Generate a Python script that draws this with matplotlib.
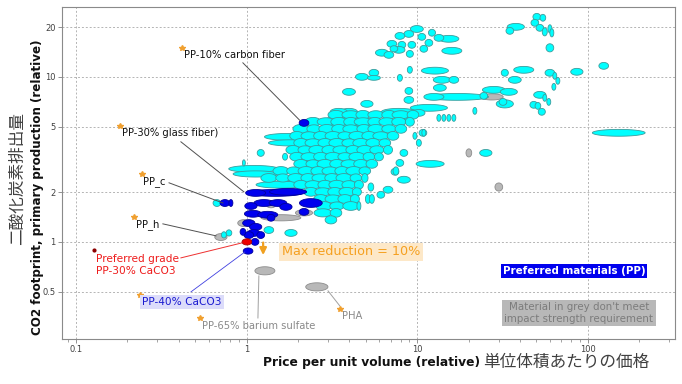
import numpy as np
import matplotlib
matplotlib.use("Agg")
import matplotlib.pyplot as plt
from matplotlib.ticker import FixedLocator, LogLocator, NullFormatter, NullLocator

# each material: (price centre, CO2 centre, price hi/lo ratio, CO2 hi/lo ratio)
cyan_wide = [
    (17.1, 7.56, 2.34, 1.10), (151.7, 4.58, 2.04, 1.10), (1.75, 4.33, 1.89, 1.10),
    (1.82, 3.98, 1.84, 1.09), (1.10, 2.77, 1.96, 1.10), (1.13, 2.58, 1.84, 1.09),
    (11.7, 6.49, 1.65, 1.10), (7.80, 6.14, 1.60, 1.10), (11.9, 2.97, 1.46, 1.10),
    (12.7, 10.9, 1.44, 1.10), (3.57, 4.98, 1.71, 1.10), (4.25, 5.49, 1.56, 1.10),
    (3.12, 3.61, 1.60, 1.09), (2.72, 3.14, 1.50, 1.09), (4.08, 4.15, 1.71, 1.09),
    (5.00, 4.91, 1.60, 1.09), (2.08, 2.38, 1.50, 1.09), (1.59, 2.22, 1.96, 1.10),
]

cyan_upper = [
    (9.95, 19.5, 1.19, 1.10), (8.93, 18.2, 1.14, 1.10), (7.91, 17.7, 1.14, 1.10),
    (12.2, 18.5, 1.10, 1.10), (10.64, 17.47, 1.11, 1.10), (11.7, 16.07, 1.11, 1.10),
    (15.32, 17.0, 1.31, 1.10), (13.4, 17.23, 1.14, 1.10), (7.10, 15.85, 1.14, 1.10),
    (8.13, 15.63, 1.11, 1.10), (9.30, 15.63, 1.11, 1.10), (7.80, 14.58, 1.18, 1.10),
    (6.21, 14.0, 1.19, 1.10), (6.82, 13.59, 1.14, 1.10), (9.05, 13.78, 1.10, 1.10),
    (10.93, 14.79, 1.11, 1.10), (15.95, 14.38, 1.31, 1.10), (7.30, 14.79, 1.11, 1.09),
    (9.05, 11.03, 1.07, 1.10), (4.74, 10.0, 1.19, 1.10), (5.57, 10.58, 1.14, 1.10),
    (5.57, 9.86, 1.19, 1.07), (7.91, 9.86, 1.07, 1.10), (13.94, 9.59, 1.26, 1.10),
    (16.39, 9.59, 1.14, 1.10), (13.57, 8.58, 1.19, 1.10), (8.93, 8.22, 1.11, 1.10),
    (3.98, 8.11, 1.19, 1.10), (12.52, 7.56, 1.31, 1.10), (28.1, 8.34, 1.36, 1.10),
    (34.4, 8.11, 1.26, 1.10), (24.56, 7.67, 1.11, 1.10), (8.93, 7.25, 1.14, 1.10),
    (5.07, 6.86, 1.18, 1.10), (32.6, 6.86, 1.26, 1.12), (31.8, 7.05, 1.11, 1.10),
    (21.76, 6.22, 1.055, 1.10), (3.98, 6.14, 1.26, 1.10), (3.47, 6.14, 1.26, 1.10),
    (10.22, 6.05, 1.18, 1.10), (13.39, 5.64, 1.055, 1.10), (14.32, 5.64, 1.055, 1.10),
    (15.32, 5.64, 1.055, 1.10), (16.39, 5.64, 1.055, 1.10), (8.93, 5.64, 1.14, 1.10),
    (10.80, 4.58, 1.11, 1.10), (9.69, 4.39, 1.055, 1.10), (7.91, 3.01, 1.11, 1.10),
    (7.40, 2.66, 1.11, 1.10), (8.35, 2.38, 1.19, 1.10), (25.23, 3.46, 1.18, 1.10),
    (10.22, 3.98, 1.07, 1.10), (10.93, 4.58, 1.055, 1.10), (8.35, 3.46, 1.11, 1.10),
    (6.74, 2.07, 1.14, 1.10), (6.12, 1.93, 1.11, 1.10), (5.35, 2.15, 1.08, 1.12),
    (7.50, 2.69, 1.08, 1.12),
]

cyan_right = [
    (50.2, 23.1, 1.11, 1.10), (48.9, 21.25, 1.11, 1.10), (52.3, 19.82, 1.11, 1.10),
    (54.5, 22.8, 1.08, 1.10), (37.83, 20.09, 1.26, 1.10), (34.9, 19.0, 1.11, 1.10),
    (55.9, 18.74, 1.07, 1.12), (59.9, 19.54, 1.055, 1.12), (61.5, 18.48, 1.055, 1.12),
    (59.9, 14.99, 1.11, 1.12), (32.6, 10.58, 1.10, 1.10), (42.1, 11.03, 1.31, 1.10),
    (37.3, 9.59, 1.19, 1.10), (59.9, 10.58, 1.14, 1.10), (64.0, 10.14, 1.055, 1.10),
    (66.7, 9.46, 1.055, 1.10), (63.2, 8.70, 1.055, 1.10), (86.2, 10.73, 1.18, 1.10),
    (123.9, 11.66, 1.14, 1.10), (52.3, 7.78, 1.18, 1.10), (55.9, 7.46, 1.055, 1.10),
    (59.0, 7.05, 1.055, 1.10), (48.2, 6.77, 1.11, 1.10), (50.96, 6.67, 1.08, 1.10),
    (53.7, 6.14, 1.10, 1.10),
]

cyan_core = [
    (3.34, 5.89, 1.24, 1.13), (4.08, 5.89, 1.27, 1.12), (4.81, 5.89, 1.21, 1.13),
    (5.72, 5.89, 1.24, 1.12), (6.82, 5.89, 1.21, 1.13), (8.02, 5.89, 1.27, 1.12),
    (9.44, 5.89, 1.17, 1.13),
    (2.45, 5.34, 1.24, 1.13), (2.92, 5.34, 1.27, 1.12), (3.47, 5.34, 1.24, 1.13),
    (4.08, 5.34, 1.21, 1.13), (4.81, 5.34, 1.27, 1.12), (5.65, 5.34, 1.21, 1.13),
    (6.64, 5.34, 1.24, 1.12), (7.80, 5.34, 1.21, 1.13), (9.05, 5.34, 1.13, 1.13),
    (2.08, 4.84, 1.24, 1.13), (2.48, 4.84, 1.21, 1.12), (2.95, 4.84, 1.24, 1.13),
    (3.47, 4.84, 1.21, 1.13), (4.08, 4.84, 1.24, 1.12), (4.87, 4.84, 1.21, 1.13),
    (5.72, 4.84, 1.24, 1.13), (6.82, 4.84, 1.21, 1.12), (8.02, 4.84, 1.17, 1.13),
    (1.97, 4.39, 1.21, 1.13), (2.32, 4.39, 1.24, 1.12), (2.72, 4.39, 1.21, 1.13),
    (3.21, 4.39, 1.24, 1.13), (3.77, 4.39, 1.21, 1.12), (4.43, 4.39, 1.24, 1.13),
    (5.21, 4.39, 1.21, 1.13), (6.12, 4.39, 1.24, 1.12), (7.21, 4.39, 1.17, 1.13),
    (2.08, 3.98, 1.21, 1.13), (2.45, 3.98, 1.24, 1.12), (2.88, 3.98, 1.21, 1.13),
    (3.38, 3.98, 1.24, 1.13), (3.98, 3.98, 1.21, 1.12), (4.67, 3.98, 1.24, 1.13),
    (5.50, 3.98, 1.21, 1.13), (6.46, 3.98, 1.17, 1.12),
    (1.87, 3.61, 1.21, 1.13), (2.20, 3.61, 1.21, 1.12), (2.58, 3.61, 1.24, 1.13),
    (3.04, 3.61, 1.21, 1.13), (3.57, 3.61, 1.24, 1.12), (4.20, 3.61, 1.21, 1.13),
    (4.93, 3.61, 1.24, 1.13), (5.80, 3.61, 1.21, 1.12), (6.74, 3.61, 1.13, 1.13),
    (1.97, 3.28, 1.21, 1.13), (2.32, 3.28, 1.24, 1.12), (2.72, 3.28, 1.21, 1.13),
    (3.21, 3.28, 1.24, 1.13), (3.77, 3.28, 1.21, 1.12), (4.43, 3.28, 1.24, 1.13),
    (5.21, 3.28, 1.17, 1.13), (5.96, 3.28, 1.13, 1.12),
    (2.08, 2.97, 1.21, 1.13), (2.45, 2.97, 1.21, 1.12), (2.88, 2.97, 1.24, 1.13),
    (3.38, 2.97, 1.21, 1.13), (3.98, 2.97, 1.24, 1.12), (4.67, 2.97, 1.21, 1.13),
    (5.42, 2.97, 1.17, 1.13),
    (1.59, 2.69, 1.24, 1.13), (1.89, 2.69, 1.21, 1.12), (2.23, 2.69, 1.24, 1.13),
    (2.62, 2.69, 1.21, 1.13), (3.08, 2.69, 1.24, 1.12), (3.62, 2.69, 1.21, 1.13),
    (4.25, 2.69, 1.24, 1.13), (4.93, 2.69, 1.17, 1.12),
    (1.35, 2.44, 1.24, 1.13), (1.63, 2.44, 1.21, 1.12), (1.94, 2.44, 1.24, 1.13),
    (2.29, 2.44, 1.21, 1.13), (2.69, 2.44, 1.24, 1.12), (3.16, 2.44, 1.21, 1.13),
    (3.72, 2.44, 1.24, 1.13), (4.37, 2.44, 1.17, 1.12), (4.93, 2.44, 1.09, 1.13),
    (2.08, 2.22, 1.21, 1.13), (2.45, 2.22, 1.24, 1.12), (2.88, 2.22, 1.21, 1.13),
    (3.38, 2.22, 1.24, 1.13), (3.98, 2.22, 1.21, 1.12), (4.55, 2.22, 1.13, 1.13),
    (2.38, 2.01, 1.21, 1.13), (2.80, 2.01, 1.24, 1.12), (3.29, 2.01, 1.21, 1.13),
    (3.87, 2.01, 1.24, 1.13), (4.43, 2.01, 1.13, 1.12),
    (2.72, 1.82, 1.21, 1.13), (3.21, 1.82, 1.24, 1.12), (3.77, 1.82, 1.21, 1.13),
    (4.31, 1.82, 1.13, 1.13), (5.14, 1.82, 1.07, 1.13), (5.42, 1.82, 1.07, 1.13),
    (2.84, 1.65, 1.24, 1.13), (3.38, 1.65, 1.21, 1.12), (4.08, 1.65, 1.24, 1.13),
    (4.55, 1.65, 1.055, 1.13), (2.80, 1.50, 1.27, 1.12), (3.34, 1.50, 1.17, 1.13),
    (3.12, 1.36, 1.17, 1.12),
    (1.21, 3.46, 1.10, 1.10), (1.68, 3.28, 1.07, 1.10), (0.964, 3.01, 1.04, 1.09),
    (1.82, 1.133, 1.18, 1.10), (1.35, 1.18, 1.14, 1.10), (0.788, 1.133, 1.08, 1.09),
    (0.736, 1.103, 1.07, 1.09), (0.670, 1.72, 1.11, 1.10),
]

grey_items = [
    (20.07, 3.46, 1.08, 1.12), (30.07, 2.15, 1.11, 1.12), (27.36, 7.56, 1.36, 1.09),
    (3.04, 5.49, 1.04, 1.09), (1.59, 1.40, 1.71, 1.09), (2.17, 1.50, 1.26, 1.09),
    (0.964, 1.30, 1.18, 1.10), (0.707, 1.07, 1.18, 1.10), (1.28, 0.668, 1.31, 1.12),
    (2.58, 0.534, 1.35, 1.12), (2.08, 3.23, 1.08, 1.09), (1.39, 1.68, 1.14, 1.09),
]

blue_items = [
    (2.17, 5.26, 1.14, 1.10), (1.465, 1.98, 2.13, 1.10), (1.75, 2.01, 1.65, 1.10),
    (1.13, 1.98, 1.31, 1.10), (0.746, 1.72, 1.14, 1.10), (0.809, 1.72, 1.055, 1.10),
    (1.263, 1.72, 1.31, 1.10), (1.527, 1.72, 1.27, 1.10), (1.06, 1.65, 1.18, 1.10),
    (1.70, 1.63, 1.18, 1.10), (2.38, 1.72, 1.36, 1.13), (2.17, 1.52, 1.14, 1.10),
    (1.09, 1.48, 1.26, 1.10), (1.33, 1.46, 1.31, 1.10), (1.03, 1.30, 1.18, 1.10),
    (1.13, 1.233, 1.18, 1.10), (1.10, 1.133, 1.18, 1.10), (1.03, 1.10, 1.14, 1.10),
    (1.21, 1.10, 1.11, 1.10), (0.952, 1.15, 1.08, 1.10), (1.12, 1.0, 1.11, 1.10),
    (1.02, 0.88, 1.14, 1.09), (1.39, 1.40, 1.11, 1.10),
]

preferred_grade = [(1.004, 1.0, 1.14, 1.09)]

fig = plt.figure(figsize=(6.82, 3.84), dpi=100)
ax = fig.add_axes([0.0909, 0.1172, 0.8988, 0.8646])
ax.set_xscale("log")
ax.set_yscale("log")
ax.set_xlim(0.0828, 324)
ax.set_ylim(0.258, 26.5)

t = np.linspace(0, 2 * np.pi, 60)


def draw(items, face, edge, z):
    for p, c, pr, cr in items:
        lx = np.log10(p) + 0.5 * np.log10(pr) * np.cos(t)
        ly = np.log10(c) + 0.5 * np.log10(cr) * np.sin(t)
        ax.fill(10 ** lx, 10 ** ly, facecolor=face, edgecolor=edge, lw=0.6, zorder=z)


draw(grey_items, "#b8b8b8", "#8c8c8c", 2)
draw(cyan_wide, "#00ffff", "#3c9c9c", 3)
draw(cyan_upper, "#00ffff", "#3c9c9c", 4)
draw(cyan_right, "#00ffff", "#3c9c9c", 4)
draw(cyan_core, "#00ffff", "#3c9c9c", 4)
draw(blue_items, "#0000ee", "#00009a", 5)
draw(preferred_grade, "#ee0000", "#aa0000", 6)

# grid & axes styling
ax.xaxis.set_major_locator(FixedLocator([0.1, 1, 10, 100]))
ax.xaxis.set_minor_locator(LogLocator(base=10, subs=np.arange(2, 10)))
ax.xaxis.set_minor_formatter(NullFormatter())
ax.set_xticklabels(["0.1", "1", "10", "100"])
ax.yaxis.set_major_locator(FixedLocator([0.5, 1, 2, 5, 10, 20]))
ax.yaxis.set_minor_locator(NullLocator())
ax.set_yticklabels(["0.5", "1", "2", "5", "10", "20"])
ax.grid(True, which="major", color="#b4b4b4", ls=(0, (2, 2)), lw=0.7, zorder=0)
ax.set_axisbelow(True)
ax.tick_params(which="major", length=3, width=0.6, color="#808080", labelsize=6,
               labelcolor="#404040", pad=1.5)
ax.tick_params(which="minor", length=2, width=0.5, color="#808080")
for s in ax.spines.values():
    s.set_color("#8a8a8a")
    s.set_linewidth(0.8)

lab = dict(fontsize=7.2, color="#111111", zorder=8)
star = dict(marker="*", color="#f0a030", ms=4, ls="none", zorder=8)

# PP-10% carbon fiber
ax.plot([0.418], [15.0], **star)
ax.text(0.429, 13.6, "PP-10% carbon fiber", va="center", **lab)
ax.plot([0.951, 2.05], [12.16, 5.45], color="#505050", lw=0.7, zorder=7)
# glass fibre
ax.plot([0.181], [5.05], **star)
ax.text(0.186, 4.58, "PP-30% glass fiber)", va="center", **lab)
ax.plot([0.412, 0.964], [4.04, 2.01], color="#505050", lw=0.7, zorder=7)
# PP_c
ax.plot([0.244], [2.58], **star)
ax.text(0.246, 2.31, "PP_c", va="center", **lab)
ax.plot([0.351, 0.727], [2.28, 1.72], color="#505050", lw=0.7, zorder=7)
# PP_h
ax.plot([0.219], [1.42], **star)
ax.text(0.224, 1.268, "PP_h", va="center", **lab)
ax.plot([0.323, 0.661], [1.286, 1.088], color="#505050", lw=0.7, zorder=7)
# preferred grade
ax.plot([0.1274], [0.894], marker="o", color="#8b0000", ms=2, ls="none", zorder=8)
ax.text(0.131, 0.721, "Preferred grade\nPP-30% CaCO3", va="center", ha="left",
        fontsize=7.6, color="#ee1c1c", linespacing=1.25, zorder=8)
ax.plot([0.412, 0.939], [0.80, 0.986], color="#ee3030", lw=0.7, zorder=7)
# PP-40% CaCO3
ax.plot([0.236], [0.477], **star)
ax.text(0.2436, 0.433, "PP-40% CaCO3", va="center", fontsize=7.6, color="#1a1ad0",
        bbox=dict(boxstyle="square,pad=0.2", fc="#dcdcfa", ec="none"), zorder=8)
ax.plot([0.472, 0.977], [0.498, 0.869], color="#4040e0", lw=0.6, zorder=7)
# PP-65% barium sulfate
ax.plot([0.533], [0.346], **star)
ax.text(0.548, 0.310, "PP-65% barium sulfate", va="center", fontsize=7.2,
        color="#8a8a8a", zorder=8)
ax.plot([1.18, 1.165], [0.622, 0.346], color="#a0a0a0", lw=0.7, zorder=7)
# PHA
ax.plot([3.52], [0.393], **star)
ax.text(3.62, 0.356, "PHA", va="center", fontsize=7.2, color="#8a8a8a", zorder=8)
ax.plot([3.0, 3.52], [0.505, 0.409], color="#a0a0a0", lw=0.7, zorder=7)

# max reduction arrow
ax.annotate("", xy=(1.25, 0.80), xytext=(1.25, 1.03),
            arrowprops=dict(arrowstyle="-|>", color="#f0a020", lw=1.6,
                            mutation_scale=10), zorder=8)
ax.text(1.61, 0.870, "Max reduction = 10%", va="center", fontsize=9.2,
        color="#f5a020", bbox=dict(boxstyle="square,pad=0.2", fc="#fde8c8", ec="none"),
        zorder=8)

ax.text(31.7, 0.667, "Preferred materials (PP)", va="center", fontsize=7.4,
        fontweight="bold", color="white",
        bbox=dict(boxstyle="square,pad=0.2", fc="#0000ee", ec="none"), zorder=8)
ax.text(88.4, 0.371, "Material in grey don't meet\nimpact strength requirement",
        va="center", ha="center", fontsize=7.4, color="#7c7c7c", linespacing=1.2,
        bbox=dict(boxstyle="square,pad=0.25", fc="#b8b8b8", ec="none"), zorder=8)

# axis titles
fig.text(0.704, 0.057, "Price per unit volume (relative)", ha="right", va="center",
         fontsize=8.8, fontweight="bold", color="#111111")
fig.text(0.708, 0.057, "単位体積あたりの価格", ha="left", va="center",
         fontsize=12, color="#404040", family=["Noto Sans CJK JP", "DejaVu Sans"])
fig.text(0.055, 0.513, "CO2 footprint, primary production (relative)", rotation=90,
         ha="center", va="center", fontsize=8.6, fontweight="bold", color="#111111")
fig.text(0.025, 0.536, "二酸化炭素排出量", rotation=90, ha="center", va="center",
         fontsize=12, color="#404040", family=["Noto Sans CJK JP", "DejaVu Sans"])

fig.savefig("out.png", dpi=100)
